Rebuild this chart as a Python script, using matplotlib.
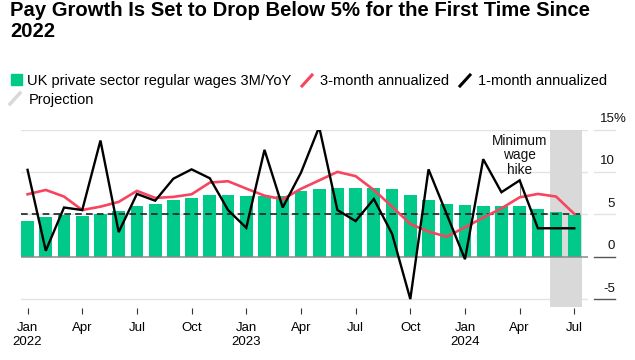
import numpy as np
import matplotlib
matplotlib.use("Agg")
import matplotlib.pyplot as plt
from matplotlib.lines import Line2D

plt.rcParams['font.family'] = ['Liberation Sans', 'DejaVu Sans']

# donnees, janvier 2022 -> juillet 2024
wages_3m_yoy = [4.25, 4.65, 4.96, 4.84, 5.08, 5.43, 6.02, 6.22, 6.65, 6.93, 7.32, 7.32,
                7.13, 7.17, 7.17, 7.76, 7.95, 8.15, 8.15, 8.15, 7.95, 7.24, 6.69, 6.22,
                6.10, 6.02, 5.94, 5.94, 5.63, 5.28, 4.88]
three_month = [7.36, 7.87, 7.09, 5.5, 5.9, 6.46, 7.76, 6.93, 7.05, 7.36, 8.74, 8.9,
               8.03, 7.2, 6.77, 8.0, 9.0, 10.0, 9.5, 7.87, 5.9, 3.86, 2.95, 2.36,
               3.46, 4.6, 5.7, 7.0, 7.4, 7.09, 5.04]
one_month = [10.24, 0.7, 5.8, 5.5, 13.7, 2.9, 7.4, 6.6, 9.2, 10.3, 9.25, 5.5,
             3.4, 12.6, 5.8, 9.9, 15.3, 5.5, 4.2, 6.8, 2.7, -5.0, 10.3, 5.0,
             -0.3, 11.5, 7.6, 9.0, 3.35, 3.35, 3.35]
tick_labels = ["Jan\n2022", "Apr", "Jul", "Oct", "Jan\n2023", "Apr", "Jul", "Oct",
               "Jan\n2024", "Apr", "Jul"]
y_ticks = [15, 10, 5, 0, -5]
target = 5
proj_start, proj_end = 28.65, 30.4   # juin-juillet 2024

GREEN = "#00c98a"
RED = "#f7455f"
W, H = 635, 360

def px(x, y):
    return x / W, 1 - y / H

x = np.arange(len(wages_3m_yoy))

fig = plt.figure(figsize=(W / 100, H / 100), dpi=100)
ax = fig.add_axes([21 / W, (H - 308.4) / H, (588 - 21) / W, (308.4 - 129.5) / H])
ax.set_xlim(-0.36, 30.75)
ax.set_ylim(-6.1, 15)

# grille
for v in y_ticks:
    if v == 0:
        continue
    ax.axhline(v, color="#e3e3e3", lw=1, zorder=0)
ax.fill_between([proj_start, proj_end], -5.9, 15, color="#d9d9d9", lw=0, zorder=0.5)

ax.bar(x, wages_3m_yoy, width=0.7, color=GREEN, zorder=1)
ax.axhline(0, color="#8a8a8a", lw=1.1, zorder=1.5)
ax.plot([-0.36, proj_end], [target, target], color="#222222", lw=1.2,
        dashes=(4, 2.5), zorder=2)
ax.plot(x, three_month, color=RED, lw=1.9, zorder=3, solid_joinstyle="round")
ax.plot(x, one_month, color="black", lw=1.7, zorder=4, solid_joinstyle="miter")
# trait de l'annotation
ax.plot([27, 27], [one_month[27], three_month[27]], color="#888888", lw=0.8, zorder=2.5)
ax.text(27, 14.5, "Minimum\nwage\nhike", ha="center", va="top", fontsize=9.8,
        linespacing=1.05, color="#111111", zorder=5)

for s in ax.spines.values():
    s.set_visible(False)
ax.set_yticks([])
ax.set_xticks(np.arange(0, 31, 3))
ax.set_xticklabels(tick_labels, fontsize=9.5, linespacing=1.15)
ax.tick_params(axis="x", length=4, width=0.8, color="#333333", pad=6)

# axe y a droite
for v in y_ticks:
    yp = 256.7 - v * 8.47
    col = "#e3e3e3" if v > 0 else "#555555"
    fig.add_artist(Line2D([594 / W, 615 / W], [1 - yp / H, 1 - yp / H],
                          color=col, lw=1, transform=fig.transFigure))
    fig.text(*px(615, yp - 7.5), str(v), ha="right", va="baseline", fontsize=9.5,
             color="#111111")
fig.text(*px(613.5, 129.5 - 7.5), "%", ha="left", va="baseline", fontsize=9.5, color="#111111")

# titre
fig.text(*px(10, 37), "Pay Growth Is Set to Drop Below 5% for the First Time Since\n2022",
         ha="left", va="baseline", fontsize=14.6, fontweight="bold", linespacing=1.15)

# legende
fig.patches.append(plt.Rectangle(px(11, 85), 11 / W, 11 / H, color=GREEN,
                                 transform=fig.transFigure))
fig.text(*px(27, 85), "UK private sector regular wages 3M/YoY", fontsize=10.5,
         va="baseline")
for (x0, col, lab) in [(302, RED, "3-month annualized"), (460, "black", "1-month annualized")]:
    fig.add_artist(Line2D([x0 / W, (x0 + 10) / W], [1 - 86 / H, 1 - 75 / H],
                          color=col, lw=2.2, transform=fig.transFigure))
    fig.text(*px(x0 + 18, 85), lab, fontsize=10.5, va="baseline")
fig.add_artist(Line2D([10 / W, 20 / W], [1 - 104 / H, 1 - 93 / H],
                      color="#d9d9d9", lw=2.5, transform=fig.transFigure))
fig.text(*px(29, 104), "Projection", fontsize=10.5, va="baseline")

fig.savefig("out.png", dpi=100)
